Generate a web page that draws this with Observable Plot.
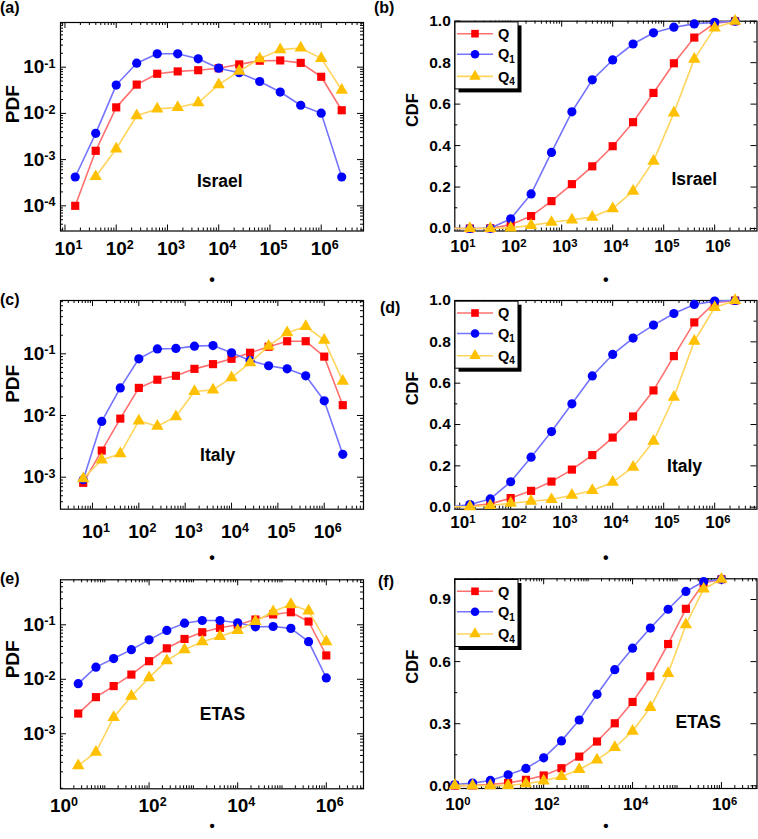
<!DOCTYPE html>
<html><head><meta charset="utf-8">
<script src="https://cdn.jsdelivr.net/npm/d3@7"></script>
<script src="https://cdn.jsdelivr.net/npm/@observablehq/plot@0.6"></script>
<style>
body{margin:0;background:#fff;}
#fig{position:relative;width:758px;height:839px;overflow:hidden;background:#fff;}
.panel{position:absolute;}
#overlay{position:absolute;left:0;top:0;pointer-events:none;}
</style></head><body><div id="fig"></div>
<script>
// ---------- data ----------
const seriesNames = ["Q", "Q1", "Q4"];
const seriesBase = ["Q", "Q", "Q"];
const seriesSub = ["", "1", "4"];
const markerColors = ["#ff0000", "#0000ff", "#ffc000"];
const lineColors = ["#ff7070", "#7474ff", "#ffd55c"];
const symbolNames = ["square", "circle", "triangle"];

// log10 of the bin positions
const israelPdfExp = [1.2,1.6,2.0,2.4,2.8,3.2,3.6,4.0,4.4,4.8,5.2,5.6,6.0,6.4];
const israelPdfQ  = [1.0e-4,1.55e-3,0.0135,0.042,0.072,0.081,0.086,0.095,0.115,0.138,0.14,0.124,0.062,0.0117];
const israelPdfQ1 = [4.2e-4,3.7e-3,0.041,0.122,0.195,0.195,0.152,0.095,0.076,0.049,0.029,0.015,0.0101,4.2e-4];
const israelPdfQ4 = [null,4.3e-4,1.7e-3,0.0089,0.0125,0.0134,0.017,0.042,0.082,0.152,0.24,0.26,0.155,0.032];

const israelCdfExp = [0.8,1.2,1.6,2.0,2.4,2.8,3.2,3.6,4.0,4.4,4.8,5.2,5.6,6.0,6.4];
const israelCdfQ  = [0,0,0.001,0.018,0.06,0.132,0.214,0.3,0.397,0.513,0.654,0.797,0.921,0.99,1.0];
const israelCdfQ1 = [0,0,0.001,0.047,0.167,0.367,0.563,0.717,0.813,0.89,0.944,0.971,0.987,0.995,1.0];
const israelCdfQ4 = [0,0,0,0.003,0.015,0.03,0.042,0.055,0.096,0.18,0.325,0.558,0.817,0.968,1.0];

const italyPdfExp = [0.8,1.2,1.6,2.0,2.4,2.8,3.2,3.6,4.0,4.4,4.8,5.2,5.6,6.0,6.4];
const italyPdfQ  = [8.1e-4,2.7e-3,8.9e-3,0.028,0.038,0.044,0.057,0.068,0.083,0.104,0.13,0.16,0.16,0.09,0.0147];
const italyPdfQ1 = [9.1e-4,8.0e-3,0.028,0.083,0.12,0.122,0.133,0.136,0.104,0.078,0.064,0.057,0.044,0.0173,2.35e-3];
const italyPdfQ4 = [9.5e-4,1.9e-3,2.4e-3,8.2e-3,6.7e-3,9.6e-3,0.0245,0.026,0.041,0.072,0.133,0.22,0.277,0.166,0.036];

const italyCdfExp = [0.8,1.2,1.6,2.0,2.4,2.8,3.2,3.6,4.0,4.4,4.8,5.2,5.6,6.0,6.4];
const italyCdfQ  = [0.001,0.006,0.016,0.044,0.079,0.124,0.182,0.252,0.337,0.439,0.565,0.731,0.894,0.989,1.0];
const italyCdfQ1 = [0.001,0.013,0.04,0.123,0.242,0.366,0.5,0.635,0.739,0.818,0.881,0.937,0.981,0.997,1.0];
const italyCdfQ4 = [0.001,0.003,0.008,0.019,0.029,0.037,0.058,0.081,0.121,0.194,0.319,0.532,0.803,0.966,1.0];

const etasPdfExp = [0.4,0.8,1.2,1.6,2.0,2.4,2.8,3.2,3.6,4.0,4.4,4.8,5.2,5.6,6.0];
const etasPdfQ  = [2.35e-3,4.7e-3,7.5e-3,0.0122,0.0215,0.037,0.055,0.073,0.088,0.1,0.125,0.155,0.17,0.115,0.0274];
const etasPdfQ1 = [8.3e-3,0.0167,0.024,0.035,0.053,0.079,0.107,0.12,0.12,0.109,0.092,0.093,0.086,0.049,0.0106];
const etasPdfQ4 = [2.6e-4,4.6e-4,2.0e-3,4.9e-3,0.0107,0.022,0.035,0.049,0.061,0.079,0.115,0.175,0.236,0.18,0.049];

const etasCdfExp = [0.0,0.4,0.8,1.2,1.6,2.0,2.4,2.8,3.2,3.6,4.0,4.4,4.8,5.2,5.6,6.0];
const etasCdfQ  = [0.001,0.002,0.006,0.014,0.029,0.05,0.085,0.141,0.214,0.302,0.405,0.529,0.685,0.855,0.98,0.998];
const etasCdfQ1 = [0.006,0.013,0.026,0.053,0.084,0.135,0.217,0.318,0.442,0.561,0.665,0.762,0.853,0.939,0.987,0.998];
const etasCdfQ4 = [0.002,0.001,0.001,0.002,0.01,0.024,0.045,0.079,0.125,0.185,0.264,0.379,0.543,0.778,0.951,0.998];

const panelLetters = ["(a)", "(b)", "(c)", "(d)", "(e)", "(f)"];
const regionNames = ["Israel", "Israel", "Italy", "Italy", "ETAS", "ETAS"];
const yTitles = ["PDF", "CDF", "PDF", "CDF", "PDF", "CDF"];
const xTitle = "\u2022";
const xLabelExpsA = [1,2,3,4,5,6];
const xLabelExpsE = [0,2,4,6];
const yLabelExpsA = [-1,-2,-3,-4];
const yLabelExpsC = [-1,-2,-3];
const cdfTicks = [0,0.2,0.4,0.6,0.8,1.0];
const cdfTicksF = [0,0.3,0.6,0.9];
// annotation anchor points (data coords: log10 x, y value at baseline)
const noteLogX = [4.02, 5.6, 3.7, 5.41, 3.655, 5.476];
const noteY = [10**-3.6, 0.21, 10**-2.73, 0.169, 10**-2.743, 0.278];

// ---------- layout ----------
const FONT = '"Liberation Sans", Arial, Helvetica, sans-serif';
const panels = [
  {left:0, top:0, width:378, height:280, ml:60, mr:15, mt:22, mb:49.5, kind:"pdf",
   xd:[0.913,6.825], yd:[-4.545,-0.033], xl:xLabelExpsA, yl:yLabelExpsA,
   exps:israelPdfExp, series:[israelPdfQ,israelPdfQ1,israelPdfQ4], xPad:10, yTitleDy:-3.5, dotDy:54, dotFs:16},
  {left:378, top:0, width:380, height:280, ml:76.3, mr:1.5, mt:20.7, mb:49.5, kind:"cdf",
   xd:[0.904,6.83], yd:[-0.012,1.0], xl:xLabelExpsA, yl:cdfTicks, ystep:0.1,
   exps:israelCdfExp, series:[israelCdfQ,israelCdfQ1,israelCdfQ4], xPad:8.5, yTitleDy:1, dotDy:53.5, dotFs:16},
  {left:0, top:280, width:378, height:280, ml:60, mr:15, mt:20, mb:51.3, kind:"pdf",
   xd:[0.31,6.847], yd:[-3.519,-0.136], xl:xLabelExpsA, yl:yLabelExpsC,
   exps:italyPdfExp, series:[italyPdfQ,italyPdfQ1,italyPdfQ4], xPad:15, yTitleDy:-2, dotDy:53.5, dotFs:16},
  {left:378, top:280, width:380, height:280, ml:76.3, mr:1.5, mt:20, mb:51.3, kind:"cdf",
   xd:[0.904,6.83], yd:[-0.0097,1.0], xl:xLabelExpsA, yl:cdfTicks, ystep:0.1,
   exps:italyCdfExp, series:[italyCdfQ,italyCdfQ1,italyCdfQ4], xPad:7, yTitleDy:0.5, dotDy:53.5, dotFs:16},
  {left:0, top:560, width:378, height:279, ml:60, mr:15, mt:19.3, mb:50.7, kind:"pdf",
   xd:[0.0,6.84], yd:[-4.01,-0.174], xl:xLabelExpsE, yl:yLabelExpsC,
   exps:etasPdfExp, series:[etasPdfQ,etasPdfQ1,etasPdfQ4], xPad:9.5, yTitleDy:-6, dotDy:42, dotFs:15},
  {left:378, top:560, width:380, height:279, ml:76.3, mr:1.5, mt:18.3, mb:51, kind:"cdf",
   xd:[0.0,6.8], yd:[-0.013,1.0], xl:xLabelExpsE, yl:cdfTicksF, ystep:0.15,
   exps:etasCdfExp, series:[etasCdfQ,etasCdfQ1,etasCdfQ4], xPad:9, yTitleDy:0, dotDy:42, dotFs:15}
];

const fig = document.getElementById("fig");
const NS = "http://www.w3.org/2000/svg";

function logTicks(lo, hi, majorExps) {
  const major = [], minor = [];
  for (let e = Math.floor(lo); e <= Math.ceil(hi); e++) {
    for (let k = 1; k <= 9; k++) {
      const v = k * 10 ** e;
      const lv = Math.log10(v);
      if (lv < lo - 1e-9 || lv > hi + 1e-9) continue;
      if (k === 1 && majorExps.includes(e)) major.push(v); else minor.push(v);
    }
  }
  return {major, minor};
}

panels.forEach((p, pi) => {
  const fw = p.width - p.ml - p.mr, fh = p.height - p.mt - p.mb;
  const isPdf = p.kind === "pdf";
  const xlo = 10 ** p.xd[0], xhi = 10 ** p.xd[1];
  const xt = logTicks(p.xd[0], p.xd[1], p.xl);
  let yMajor, yMinor, yLabels;
  if (isPdf) {
    const yt = logTicks(p.yd[0], p.yd[1], p.yl);
    yMajor = yt.major; yMinor = yt.minor; yLabels = p.yl.map(e => 10 ** e);
  } else {
    yMajor = p.yl; yLabels = p.yl;
    yMinor = [];
    for (let i = 0; i < p.yl.length - 1; i++) yMinor.push((p.yl[i] + p.yl[i + 1]) / 2);
    const last = p.yl[p.yl.length - 1] + p.ystep;
    if (last <= p.yd[1] + 1e-9) yMinor.push(last);
  }
  const marks = [];
  const TL = 6, TS = 3;
  const tk = {stroke: "black", strokeWidth: 1};
  // inward ticks on all four sides
  marks.push(Plot.tickX(xt.major, {x: d => d, insetTop: fh - TL, ...tk}));
  marks.push(Plot.tickX(xt.minor, {x: d => d, insetTop: fh - TS, ...tk}));
  marks.push(Plot.tickX(xt.major, {x: d => d, insetBottom: fh - TL, ...tk}));
  marks.push(Plot.tickX(xt.minor, {x: d => d, insetBottom: fh - TS, ...tk}));
  marks.push(Plot.tickY(yMajor, {y: d => d, insetRight: fw - TL, ...tk}));
  marks.push(Plot.tickY(yMinor, {y: d => d, insetRight: fw - TS, ...tk}));
  marks.push(Plot.tickY(yMajor, {y: d => d, insetLeft: fw - TL, ...tk}));
  marks.push(Plot.tickY(yMinor, {y: d => d, insetLeft: fw - TS, ...tk}));
  marks.push(Plot.frame({stroke: "black", strokeWidth: 1.2}));
  // axes (labels only)
  const xFs = isPdf ? 19 : 17;
  const yFs = isPdf ? 19 : 15.5;
  marks.push(Plot.axisX({anchor: "bottom", ticks: p.xl.map(e => 10 ** e), tickSize: 0, tickPadding: p.xPad,
    tickFormat: d => "10^" + Math.round(Math.log10(d)), label: null, fontSize: xFs, fontWeight: "bold"}));
  marks.push(Plot.axisY({anchor: "left", ticks: yLabels, tickSize: 0, tickPadding: isPdf ? 5 : 4,
    tickFormat: isPdf ? (d => "10^" + Math.round(Math.log10(d))) : (d => d.toFixed(1)),
    label: null, fontSize: yFs, fontWeight: "bold"}));
  // data
  p.series.forEach((vals, si) => {
    const rows = [];
    vals.forEach((v, i) => { if (v != null) rows.push({x: 10 ** p.exps[i], y: v}); });
    marks.push(Plot.line(rows, {x: "x", y: "y", stroke: lineColors[si], strokeWidth: 1.6, clip: true}));
    marks.push(Plot.dot(rows.filter(r => r.x >= xlo * 0.999 && r.x <= xhi), {x: "x", y: "y", symbol: symbolNames[si], r: 4.6, fill: markerColors[si], stroke: "none"}));
  });
  // texts
  marks.push(Plot.text([regionNames[pi]], {x: [10 ** noteLogX[pi]], y: [noteY[pi]], text: d => d, lineAnchor: "bottom", fontSize: 17.5, fontWeight: "bold"}));
  marks.push(Plot.text([yTitles[pi]], {frameAnchor: "left", text: d => d, rotate: -90, dx: isPdf ? -47.5 : -42, dy: p.yTitleDy, fontSize: isPdf ? 19 : 16.5, fontWeight: "bold"}));
  marks.push(Plot.text([xTitle], {frameAnchor: "bottom", text: d => d, dy: p.dotDy, fontSize: p.dotFs, fontWeight: "bold"}));

  const chart = Plot.plot({
    width: p.width, height: p.height,
    marginLeft: p.ml, marginRight: p.mr, marginTop: p.mt, marginBottom: p.mb,
    x: {type: "log", domain: [xlo, xhi]},
    y: isPdf ? {type: "log", domain: [10 ** p.yd[0], 10 ** p.yd[1]]} : {type: "linear", domain: p.yd},
    style: {fontFamily: FONT, fontWeight: "bold", color: "black", background: "transparent", overflow: "visible"},
    marks
  });
  chart.classList.add("panel");
  chart.style.left = p.left + "px";
  chart.style.top = p.top + "px";
  fig.appendChild(chart);
  // superscripts for powers of ten
  chart.querySelectorAll('g[aria-label="x-axis tick label"] text, g[aria-label="y-axis tick label"] text').forEach(t => {
    const m = /^10\^(-?\d+)$/.exec(t.textContent);
    if (!m) return;
    const isX = t.closest('g[aria-label="x-axis tick label"]') != null;
    t.textContent = "10";
    const ts = document.createElementNS(NS, "tspan");
    ts.setAttribute("dy", "-0.45em");
    ts.setAttribute("font-size", "0.66em");
    ts.textContent = m[1];
    t.appendChild(ts);
    if (isX) {
      const w = ts.getComputedTextLength();
      t.setAttribute("dx", (w / 2).toFixed(2));
    }
  });
});

// ---------- overlay: panel letters and legends ----------
const ov = d3.select(fig).append("svg").attr("id", "overlay").attr("width", 758).attr("height", 839)
  .attr("font-family", FONT).attr("font-weight", "bold");
const letterPos = [[0, 13], [374, 13], [0, 305], [380, 313], [0, 583.5], [378, 586.5]];
panelLetters.forEach((t, i) => {
  ov.append("text").attr("x", letterPos[i][0]).attr("y", letterPos[i][1]).attr("font-size", 16).text(t);
});
function legend(x0, y0) {
  const w = 63, h = 67;
  ov.append("rect").attr("x", x0 + 3.5).attr("y", y0 + 3.5).attr("width", w).attr("height", h).attr("fill", "black");
  ov.append("rect").attr("x", x0).attr("y", y0).attr("width", w).attr("height", h).attr("fill", "white").attr("stroke", "black").attr("stroke-width", 1);
  const rowY = [11.8, 32.3, 54.5];
  const symTypes = [d3.symbolSquare, d3.symbolCircle, d3.symbolTriangle];
  seriesNames.forEach((n, i) => {
    const ly = y0 + rowY[i];
    ov.append("line").attr("x1", x0 + 2).attr("x2", x0 + 38).attr("y1", ly).attr("y2", ly)
      .attr("stroke", lineColors[i]).attr("stroke-width", 1.6);
    ov.append("path").attr("d", d3.symbol(symTypes[i], 4.3 * 4.3 * Math.PI)())
      .attr("transform", `translate(${x0 + 20},${ly})`).attr("fill", markerColors[i]);
    const tx = ov.append("text").attr("x", x0 + 43).attr("y", ly + 5.2).attr("font-size", 14.5).text(seriesBase[i]);
    if (seriesSub[i]) tx.append("tspan").attr("dy", 3.5).attr("font-size", 10).text(seriesSub[i]);
  });
}
panels.forEach(p => { if (p.kind === "cdf") legend(p.left + p.ml + 0.7, p.top + p.mt + 1.2); });
</script></body></html>
